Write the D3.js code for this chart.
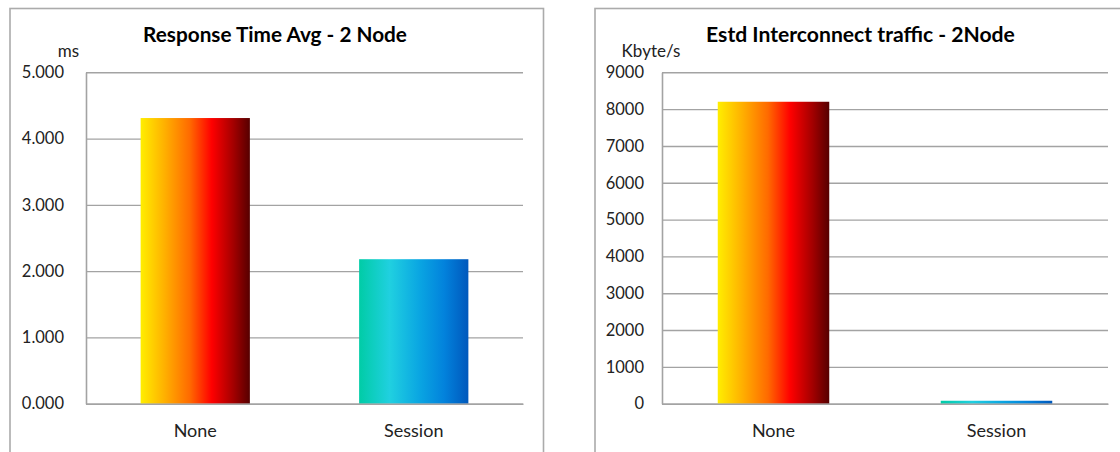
<!DOCTYPE html>
<html>
<head>
<meta charset="utf-8">
<script src="https://cdn.jsdelivr.net/npm/d3@7"></script>
<style>
  html, body { margin: 0; padding: 0; background: #fff; }
  svg { display: block; }
  text { font-family: Lato, "Noto Sans", sans-serif; }
</style>
</head>
<body>
<svg id="chart" width="1120" height="452"></svg>
<script>
// ---- data ----
const categories = ["None", "Session"];
const responseTimeMs = [4.31, 2.18];
const interconnectKbyteS = [8200, 80];
const responseTicks = [0, 1, 2, 3, 4, 5];
const trafficTicks = [0, 1000, 2000, 3000, 4000, 5000, 6000, 7000, 8000, 9000];
const titles = ["Response Time Avg - 2 Node", "Estd Interconnect traffic - 2Node"];
const units = ["ms", "Kbyte/s"];

// ---- layout ----
const svg = d3.select("#chart");
const defs = svg.append("defs");

const warm = defs.append("linearGradient").attr("id", "gWarm").attr("x1", 0).attr("x2", 1).attr("y1", 0).attr("y2", 0);
[[0, "#ffee00"], [0.22, "#ffb000"], [0.45, "#ff6a00"], [0.65, "#ff0000"], [0.85, "#a30000"], [1, "#560000"]]
  .forEach(([o, c]) => warm.append("stop").attr("offset", o).attr("stop-color", c));
const cool = defs.append("linearGradient").attr("id", "gCool").attr("x1", 0).attr("x2", 1).attr("y1", 0).attr("y2", 0);
[[0, "#00cca6"], [0.28, "#20d0e0"], [0.55, "#0aa6e2"], [0.78, "#0282dc"], [1, "#0058bc"]]
  .forEach(([o, c]) => cool.append("stop").attr("offset", o).attr("stop-color", c));
const fills = ["url(#gWarm)", "url(#gCool)"];

const panels = [
  { px0: 10, px1: 543.5, x0: 86, x1: 523, yTop: 72.3, yBot: 403.7,
    titleCx: 275, titleW: 264, unitCx: 68.5, unitBase: 56.5, labelGap: 22,
    values: responseTimeMs, ticks: responseTicks, fmt: d3.format(".3f"), title: titles[0], unit: units[0] },
  { px0: 595, px1: 1130, x0: 662, x1: 1108, yTop: 72.3, yBot: 403.7,
    titleCx: 860.5, titleW: 309, unitCx: 651, unitBase: 57, labelGap: 18,
    values: interconnectKbyteS, ticks: trafficTicks, fmt: d3.format("d"), title: titles[1], unit: units[1] }
];

panels.forEach(p => {
  const g = svg.append("g");
  // panel border
  g.append("rect")
    .attr("x", p.px0).attr("y", 8.5)
    .attr("width", p.px1 - p.px0).attr("height", 470)
    .attr("fill", "#fff").attr("stroke", "#ababab").attr("stroke-width", 1.6);

  const x = d3.scaleBand().domain(categories).range([p.x0, p.x1]).paddingInner(0.5).paddingOuter(0.25);
  const y = d3.scaleLinear().domain([0, d3.max(p.ticks)]).range([p.yBot, p.yTop]);

  // gridlines
  const grid = g.append("g").attr("transform", `translate(${p.x0},0)`)
    .call(d3.axisLeft(y).tickValues(p.ticks).tickSize(-(p.x1 - p.x0)).tickFormat(""));
  grid.select(".domain").remove();
  grid.selectAll("line").attr("stroke", "#a3a3a3").attr("stroke-width", 1.4);

  // bars
  g.selectAll("rect.bar").data(p.values).join("rect")
    .attr("class", "bar")
    .attr("x", (d, i) => x(categories[i]))
    .attr("width", x.bandwidth())
    .attr("y", d => y(d))
    .attr("height", d => y(0) - y(d))
    .attr("fill", (d, i) => fills[i]);

  // y axis line + labels
  const ya = g.append("g").attr("transform", `translate(${p.x0},0)`)
    .call(d3.axisLeft(y).tickValues(p.ticks).tickSize(0).tickPadding(p.labelGap).tickFormat(p.fmt));
  ya.select(".domain").attr("stroke", "#a3a3a3").attr("stroke-width", 1.6);
  ya.selectAll("text").attr("font-size", 16.5).attr("fill", "#222").attr("font-family", "Lato, sans-serif");

  // x axis baseline + labels
  const xa = g.append("g").attr("transform", `translate(0,${p.yBot})`)
    .call(d3.axisBottom(x).tickSize(0).tickPadding(20));
  xa.select(".domain").attr("stroke", "#a3a3a3").attr("stroke-width", 1.6);
  xa.selectAll("text").attr("font-size", 18).attr("fill", "#222").attr("font-family", "Lato, sans-serif")
    .attr("dy", null).attr("y", 437 - p.yBot);

  // unit label
  g.append("text").attr("x", p.unitCx).attr("y", p.unitBase)
    .attr("text-anchor", "middle").attr("font-size", 17).attr("fill", "#222").text(p.unit);

  // title fitted to measured width
  const t = g.append("text").attr("x", p.titleCx).attr("y", 41.7)
    .attr("text-anchor", "middle").attr("font-weight", "bold").attr("font-size", 20)
    .attr("fill", "#000").text(p.title);
  const len = t.node().getComputedTextLength();
  t.attr("font-size", 20 * p.titleW / len);
});
</script>
</body>
</html>
